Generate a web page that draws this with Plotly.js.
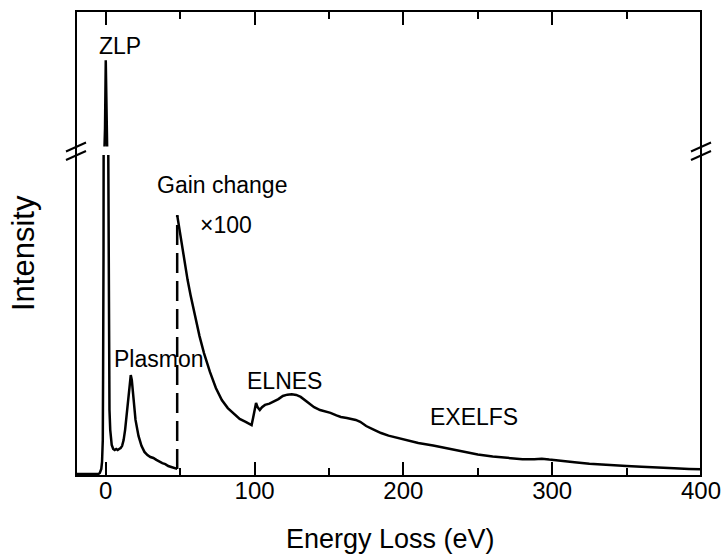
<!DOCTYPE html>
<html>
<head>
<meta charset="utf-8">
<script src="https://cdn.plot.ly/plotly-3.0.1.min.js"></script>
<style>html,body{margin:0;padding:0;background:#fff;}#chart{width:725px;height:557px;}</style>
</head>
<body>
<div id="chart"></div>
<script>
// Energy loss (eV) and intensity (arb. units) before the gain change (x1)
const preEnergy = [-20,-10,-5,-4,-3,-2.5,-2,-1.8,-1.5,-1,-0.5,0,0.5,1,1.5,2,2.2,2.5,3,4,5,6,7,8,9,10,11,12,13,14,15,16,16.8,17.5,18.5,20,22,24,26,28,30,32,34,36,38,40,42,44,46,48];
const preIntensity = [0,0,0,0.3,1.6,3.8,10.6,30,70,300,2500,8000,2500,400,120,50,30,20,13.8,9.1,7.8,7.5,7.8,7.5,7.8,8.1,8.8,10.6,13.8,18.4,24.7,29.4,30.9,29.4,23.8,16.9,11.9,8.8,6.9,5.9,5.3,5.0,4.4,3.8,3.4,3.1,2.5,2.2,1.9,1.6];
// After the gain change (x100)
const postEnergy = [48,49,50,51,53,55,57,60,63,66,70,74,78,82,86,90,94,97,98,99,100,101,102,103.5,105,107,110,113,116,119,122,125,128,131,134,137,140,144,148,151,155,158,162,165,168,171,175,180,185,190,195,200,210,220,230,240,250,260,270,280,288,293,298,305,315,325,337,350,360,370,382,392,400];
const postIntensity = [80.9,77.8,75,71.9,66.3,60.6,55.9,49.4,43.1,37.8,31.9,26.9,23.1,20.6,18.8,17.2,16.3,15.5,15.3,17.5,20.6,22.2,20.9,20,20.9,21.6,22,22.7,23.4,24.4,24.8,24.9,24.7,24.1,23.1,21.9,20.9,20,19.5,19.1,18.3,17.8,17.5,17.3,16.9,16.3,15,13.9,12.8,12,11.4,10.8,9.7,8.9,8,6.9,6.1,5.5,5,4.6,4.6,4.8,4.5,4.1,3.7,3.2,2.8,2.5,2.3,2,1.8,1.6,1.5];
const gainChangeEnergy = 48;
const xTickVals = [0,100,200,300,400];
const xTickText = ['0','100','200','300','400'];
const labelText = ['ZLP','Gain change','\u00d7100','Plasmon','ELNES','EXELFS'];
const labelEnergy = [9.8,77.8,81,35.2,119.9,247.4];

// layout geometry
const W = 725, H = 557;
const mL = 76, mR = 24, mT = 11, mB = 81;
const pw = W - mL - mR, ph = H - mT - mB;
const pyToPaper = py => (H - mB - py) / ph;
const pxToPaper = px => (px - mL) / pw;
const lowTop = pyToPaper(155), upBottom = pyToPaper(146.5);
const labelPy = [46,185,225,359,381,417];

const line = {color:'#000', width:2.5};
const traces = [
  {x:preEnergy, y:preIntensity, xaxis:'x', yaxis:'y', mode:'lines', line:line, hoverinfo:'skip'},
  {x:preEnergy, y:preIntensity, xaxis:'x2', yaxis:'y2', mode:'lines', line:line, hoverinfo:'skip'},
  {x:postEnergy, y:postIntensity, xaxis:'x', yaxis:'y', mode:'lines', line:line, hoverinfo:'skip'},
  {x:[gainChangeEnergy, gainChangeEnergy], y:[preIntensity[preIntensity.length-1], postIntensity[0]], xaxis:'x', yaxis:'y', mode:'lines', line:{color:'#000', width:2.5, dash:'20px,8px'}, hoverinfo:'skip'}
];

const font = {family:'"Liberation Sans", Arial, sans-serif', color:'#000'};
const ann = (text, xp, yp, size, extra) => Object.assign({text:text, xref:'paper', yref:'paper', x:pxToPaper(xp), y:pyToPaper(yp), showarrow:false, xanchor:'center', yanchor:'middle', font:Object.assign({}, font, {size:size})}, extra||{});

const annotations = labelText.map((t, i) => Object.assign(ann(t, 0, labelPy[i], 23), {xref:'x', x:labelEnergy[i]}));
annotations.push(ann('Energy Loss (eV)', 390, 539, 27));
annotations.push(ann('Intensity', 23, 253, 31, {textangle:-90}));

const shapes = [
  {type:'rect', xref:'paper', yref:'paper', x0:0, x1:1, y0:0, y1:1, line:{color:'#000', width:2}, fillcolor:'rgba(0,0,0,0)', layer:'above'}
];
[mL, W - mR].forEach(ax => {
  shapes.push({type:'line', xref:'paper', yref:'paper', x0:pxToPaper(ax-10), x1:pxToPaper(ax+10), y0:pyToPaper(151.5), y1:pyToPaper(142.5), line:{color:'#000', width:2}});
  shapes.push({type:'line', xref:'paper', yref:'paper', x0:pxToPaper(ax-10), x1:pxToPaper(ax+10), y0:pyToPaper(160), y1:pyToPaper(151), line:{color:'#000', width:2}});
});

const xCommon = {range:[-20,400], showgrid:false, zeroline:false, showline:false,
  ticks:'inside', ticklen:14, tickwidth:2, tickcolor:'#000', tickmode:'array', tickvals:xTickVals, ticktext:xTickText,
  minor:{ticks:'inside', ticklen:8, tickwidth:2, tickcolor:'#000', tickmode:'linear', tick0:0, dtick:50}};

const layout = {
  width:W, height:H, margin:{l:mL, r:mR, t:mT, b:mB, pad:0},
  paper_bgcolor:'#fff', plot_bgcolor:'#fff', showlegend:false, font:font,
  xaxis:Object.assign({}, xCommon, {anchor:'y', domain:[0,1], ticklabelstandoff:-2, tickfont:Object.assign({}, font, {size:24})}),
  xaxis2:Object.assign({}, xCommon, {anchor:'y2', domain:[0,1], side:'top', matches:'x', showticklabels:false}),
  yaxis:{domain:[0, lowTop], range:[-0.625, 99.7], showgrid:false, zeroline:false, showline:false, showticklabels:false, ticks:''},
  yaxis2:{domain:[upBottom, 1], range:[1000, 12000], showgrid:false, zeroline:false, showline:false, showticklabels:false, ticks:''},
  annotations:annotations, shapes:shapes
};

Plotly.newPlot('chart', traces, layout, {staticPlot:true, displayModeBar:false});
</script>
</body>
</html>
